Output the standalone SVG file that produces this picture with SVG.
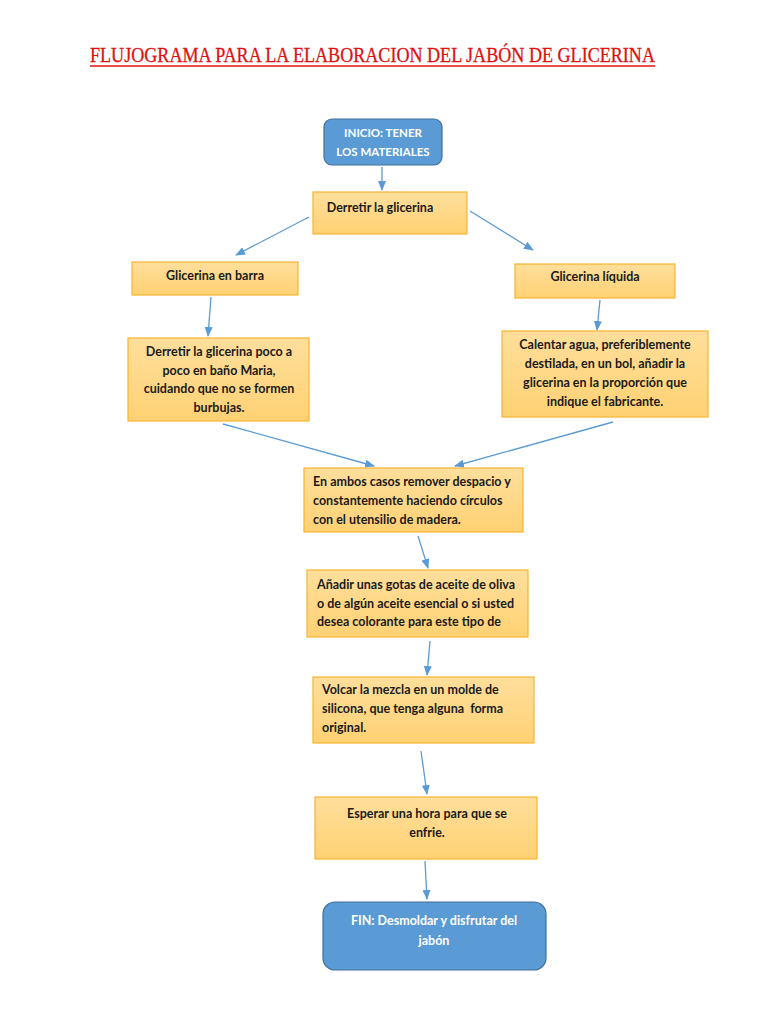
<svg xmlns="http://www.w3.org/2000/svg" width="768" height="1024" viewBox="0 0 768 1024">
<style>
.box{fill:url(#og);stroke:#F5B431;stroke-width:1.2}
.term{fill:#5B9BD5;stroke:#41719C;stroke-width:1.2}
.t{font-family:Lato,"Open Sans",sans-serif;font-size:12.5px;font-weight:bold;fill:#1a1a1a}
.w{font-family:Lato,"Open Sans",sans-serif;font-size:11.5px;font-weight:bold;fill:#fff}
.wl{font-size:12.5px}
.c{text-anchor:middle}
.ln{stroke:#5B9BD5;stroke-width:1.3;fill:none;marker-end:url(#ah)}
</style>
<defs>
<linearGradient id="og" x1="0" y1="0" x2="0" y2="1">
<stop offset="0" stop-color="#FFDF9C"/>
<stop offset="1" stop-color="#FFD173"/>
</linearGradient>
<marker id="ah" markerWidth="10" markerHeight="8" refX="9" refY="4" orient="auto" markerUnits="userSpaceOnUse">
<path d="M0,0 L10,4 L0,8 z" fill="#5B9BD5"/>
</marker>
</defs>
<rect width="768" height="1024" fill="#fff"/>
<g id="title">
<text x="90" y="62" font-family="Liberation Serif, serif" font-size="21" fill="#E01010" stroke="#E01010" stroke-width="0.3" textLength="565" lengthAdjust="spacingAndGlyphs">FLUJOGRAMA PARA LA ELABORACION DEL JABÓN DE GLICERINA</text>
<line x1="90" y1="66" x2="655" y2="66" stroke="#E01010" stroke-width="1.4"/>
</g>
<g id="connectors">
<line class="ln" x1="382" y1="167" x2="382" y2="190"/>
<line class="ln" x1="309" y1="217" x2="236" y2="255"/>
<line class="ln" x1="470" y1="211" x2="533" y2="250"/>
<line class="ln" x1="211" y1="297" x2="208" y2="336"/>
<line class="ln" x1="600" y1="300" x2="597" y2="330"/>
<line class="ln" x1="223" y1="424" x2="374" y2="466"/>
<line class="ln" x1="613" y1="422" x2="455" y2="466"/>
<line class="ln" x1="418" y1="536" x2="428" y2="568"/>
<line class="ln" x1="430" y1="641" x2="427" y2="675"/>
<line class="ln" x1="421" y1="751" x2="427" y2="794"/>
<line class="ln" x1="425" y1="861" x2="427" y2="899"/>
</g>
<g id="inicio">
<rect class="term" x="324" y="119" width="118" height="46" rx="8"/>
<text class="w c" x="383" y="137">INICIO: TENER</text>
<text class="w c" x="383" y="156">LOS MATERIALES</text>
</g>
<g id="derretir">
<rect class="box" x="313" y="192" width="154" height="42"/>
<text class="t c" x="380" y="212">Derretir la glicerina</text>
</g>
<g id="barra">
<rect class="box" x="132" y="262" width="166" height="33"/>
<text class="t c" x="215" y="280">Glicerina en barra</text>
</g>
<g id="liquida">
<rect class="box" x="515" y="264" width="160" height="34"/>
<text class="t c" x="595" y="281">Glicerina líquida</text>
</g>
<g id="bano">
<rect class="box" x="128" y="338" width="181" height="83"/>
<text class="t c" x="219" y="356">Derretir la glicerina poco a</text>
<text class="t c" x="219" y="375">poco en baño Maria,</text>
<text class="t c" x="219" y="393">cuidando que no se formen</text>
<text class="t c" x="219" y="412">burbujas.</text>
</g>
<g id="calentar">
<rect class="box" x="502" y="331" width="206" height="86"/>
<text class="t c" x="605" y="349">Calentar agua, preferiblemente</text>
<text class="t c" x="605" y="368">destilada, en un bol, añadir la</text>
<text class="t c" x="605" y="387">glicerina en la proporción que</text>
<text class="t c" x="605" y="406">indique el fabricante.</text>
</g>
<g id="remover">
<rect class="box" x="304" y="468" width="219" height="64"/>
<text class="t" x="313" y="486">En ambos casos remover despacio y</text>
<text class="t" x="313" y="505">constantemente haciendo círculos</text>
<text class="t" x="313" y="524">con el utensilio de madera.</text>
</g>
<g id="anadir">
<rect class="box" x="307" y="570" width="221" height="67"/>
<text class="t" x="317" y="589">Añadir unas gotas de aceite de oliva</text>
<text class="t" x="317" y="608">o de algún aceite esencial o si usted</text>
<text class="t" x="317" y="626">desea colorante para este tipo de</text>
</g>
<g id="volcar">
<rect class="box" x="313" y="677" width="221" height="66"/>
<text class="t" x="322" y="694">Volcar la mezcla en un molde de</text>
<text class="t" x="322" y="713" xml:space="preserve">silicona, que tenga alguna  forma</text>
<text class="t" x="322" y="732">original.</text>
</g>
<g id="esperar">
<rect class="box" x="315" y="797" width="222" height="62"/>
<text class="t c" x="427" y="818">Esperar una hora para que se</text>
<text class="t c" x="427" y="837">enfrie.</text>
</g>
<g id="fin">
<rect class="term" x="323" y="902" width="223" height="68" rx="12"/>
<text class="w wl c" x="434" y="925">FIN: Desmoldar y disfrutar del</text>
<text class="w wl c" x="434" y="945">jabón</text>
</g>
</svg>
